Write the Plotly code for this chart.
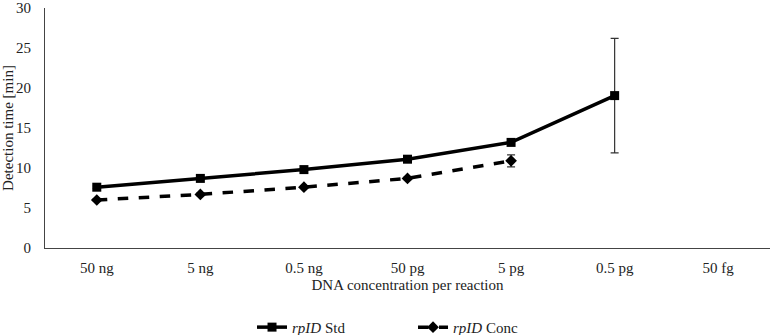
import plotly.graph_objects as go

categories = ["50 ng", "5 ng", "0.5 ng", "50 pg", "5 pg", "0.5 pg", "50 fg"]
std_values = [7.6, 8.7, 9.8, 11.1, 13.2, 19.05, None]
std_err = [0.15, 0.15, 0.15, 0.15, 0.2, 7.15, 0]
conc_values = [6.0, 6.7, 7.6, 8.7, 10.9, None, None]
conc_err = [0.15, 0.15, 0.15, 0.15, 0.75, 0, 0]

FAM = "Liberation Serif, Times New Roman, serif"
font = dict(family=FAM, size=14, color="#222")
tickfont = dict(family=FAM, size=15, color="#222")

fig = go.Figure()
fig.add_trace(go.Scatter(
    x=categories, y=std_values, name="<i>rpID</i> Std", mode="lines+markers",
    line=dict(color="black", width=3.5),
    marker=dict(symbol="square", size=9, color="black"),
    error_y=dict(type="data", array=std_err, color="#333", thickness=1.2, width=4),
))
fig.add_trace(go.Scatter(
    x=categories, y=conc_values, name="<i>rpID</i> Conc", mode="lines+markers",
    line=dict(color="black", width=3.5, dash="dash"),
    marker=dict(symbol="diamond", size=9, color="black"),
    error_y=dict(type="data", array=conc_err, color="#333", thickness=1.2, width=4),
))

fig.update_layout(
    width=772, height=335,
    margin=dict(l=45, r=2, t=8, b=87),
    paper_bgcolor="white", plot_bgcolor="white",
    font=font,
    showlegend=True,
    legend=dict(orientation="h", x=0.535, xanchor="center", xref="container",
                y=0.072, yanchor="top", yref="container", entrywidth=116,
                font=dict(family=FAM, size=15, color="#222")),
    xaxis=dict(
        type="category", categoryorder="array", categoryarray=categories,
        range=[-0.5, 6.5], showgrid=False, showline=True, linecolor="#444", linewidth=1.2,
        ticks="", tickfont=tickfont, ticklabelstandoff=6, automargin=False,
        title=dict(text="DNA concentration per reaction", standoff=4, font=dict(family=FAM, size=15, color="#222")),
    ),
    yaxis=dict(
        range=[0, 30], dtick=5, showgrid=False, showline=True, linecolor="#444", linewidth=1.2,
        ticks="", zeroline=False, tickfont=tickfont, ticklabelstandoff=10, automargin=False,
        title=dict(text="Detection time [min]", standoff=6, font=dict(family=FAM, size=15, color="#222")),
    ),
)

fig.write_html("out.html", config={"displayModeBar": False},
               post_script="document.body.style.margin='0';")
